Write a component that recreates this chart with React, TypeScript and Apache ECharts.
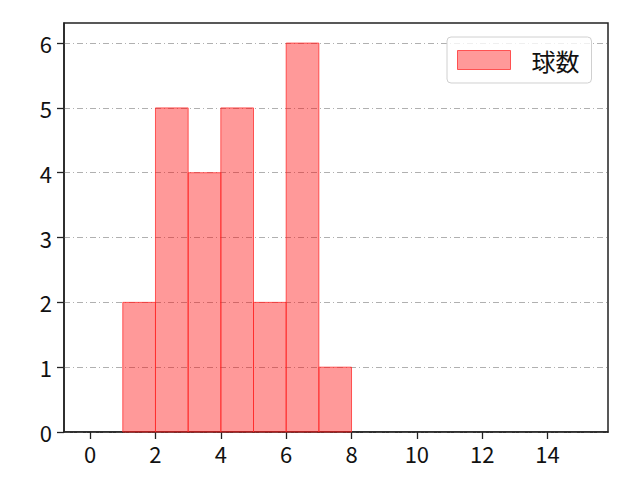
import React, { useEffect, useRef } from 'react';
import * as echarts from 'echarts';

// histogram bins (left edge, right edge) and counts
const binStarts = [1, 2, 3, 4, 5, 6, 7];
const binEnds = [2, 3, 4, 5, 6, 7, 8];
const counts = [2, 5, 4, 5, 2, 6, 1];
const xTicks = [0, 2, 4, 6, 8, 10, 12, 14];
const yTicks = [0, 1, 2, 3, 4, 5, 6];
const seriesName = '球数';

const FONT = '"Noto Sans CJK JP", "Noto Sans", sans-serif';
const FILL = 'rgba(255, 0, 0, 0.4)';
const EDGE = 'rgba(255, 40, 40, 0.75)';

export default function App() {
  const ref = useRef<HTMLDivElement>(null);

  useEffect(() => {
    if (!ref.current) return;
    const chart = echarts.init(ref.current, null, { renderer: 'svg' });
    const data = binStarts.map((s, i) => [s, binEnds[i], counts[i]]);

    chart.setOption({
      animation: false,
      backgroundColor: '#ffffff',
      textStyle: { fontFamily: FONT },
      grid: {
        left: 64,
        top: 23,
        width: 544,
        height: 409,
        show: true,
        borderColor: '#222',
        borderWidth: 1.5,
        backgroundColor: 'transparent',
      },
      legend: {
        left: 447,
        top: 37,
        orient: 'vertical',
        padding: [11, 12, 11, 10],
        borderColor: '#d0d0d0',
        borderWidth: 1,
        borderRadius: 4,
        backgroundColor: 'rgba(255,255,255,0.8)',
        itemWidth: 53,
        itemHeight: 19,
        textStyle: { fontSize: 24, color: '#111', fontFamily: FONT, padding: [0, 0, 0, 16] },
        data: [
          {
            name: seriesName,
            icon: 'rect',
            itemStyle: { color: FILL, borderColor: EDGE, borderWidth: 1 },
          },
        ],
      },
      xAxis: {
        type: 'value',
        min: -0.8,
        max: 15.85,
        splitLine: { show: false },
        axisLine: { show: true, onZero: false, lineStyle: { color: '#222', width: 1.5 } },
        axisTick: {
          show: true,
          customValues: xTicks,
          length: 7,
          lineStyle: { color: '#222', width: 1.3 },
        },
        axisLabel: {
          customValues: xTicks,
          margin: 10,
          fontSize: 22,
          color: '#111',
          fontFamily: FONT,
        },
      },
      yAxis: {
        type: 'value',
        min: 0,
        max: 6.31,
        axisLine: { show: true, onZero: false, lineStyle: { color: '#222', width: 1.5 } },
        axisTick: {
          show: true,
          customValues: yTicks,
          length: 7,
          lineStyle: { color: '#222', width: 1.3 },
        },
        axisLabel: {
          customValues: yTicks,
          margin: 12,
          fontSize: 22,
          color: '#111',
          fontFamily: FONT,
        },
        splitLine: {
          show: true,
          customValues: yTicks,
          lineStyle: { color: '#b0b0b0', width: 1, type: [6, 3, 1, 3] },
        },
      },
      series: [
        {
          name: seriesName,
          type: 'custom',
          itemStyle: { color: FILL, borderColor: EDGE },
          encode: { x: [0, 1], y: 2 },
          data,
          renderItem: (params: any, api: any) => {
            const p0 = api.coord([api.value(0), api.value(2)]);
            const p1 = api.coord([api.value(1), 0]);
            return {
              type: 'rect',
              shape: { x: p0[0], y: p0[1], width: p1[0] - p0[0], height: p1[1] - p0[1] },
              style: { fill: FILL, stroke: EDGE, lineWidth: 1 },
            };
          },
        },
      ],
    });

    return () => chart.dispose();
  }, []);

  return (
    <div
      ref={ref}
      style={{ position: 'fixed', left: 0, top: 0, width: 640, height: 480 }}
    />
  );
}
